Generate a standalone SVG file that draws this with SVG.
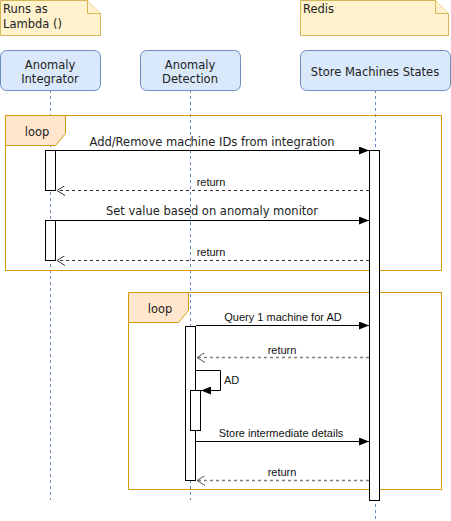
<svg xmlns="http://www.w3.org/2000/svg" width="451" height="521" viewBox="0 0 451 521">
<defs>
<marker id="block" viewBox="0 0 10 8" refX="10" refY="4" markerWidth="10" markerHeight="8" markerUnits="userSpaceOnUse" orient="auto"><path d="M0,0 L10,4 L0,8 Z" fill="#000"/></marker>
<marker id="open" viewBox="0 0 10 10" refX="9" refY="5" markerWidth="10" markerHeight="10" markerUnits="userSpaceOnUse" orient="auto"><path d="M1,0 L9,5 L1,10" fill="none" stroke="#333" stroke-width="1"/></marker>
<marker id="open2" viewBox="0 0 10 10" refX="9" refY="5" markerWidth="10" markerHeight="10" markerUnits="userSpaceOnUse" orient="auto"><path d="M1,0 L9,5 L1,10" fill="none" stroke="#555" stroke-width="1"/></marker>
</defs>
<style>
.note{fill:#fff2cc;stroke:#d6b656;stroke-width:1}
.part{fill:#dae8fc;stroke:#6c8ebf;stroke-width:1}
.life{stroke:#6c8ebf;stroke-width:1;stroke-dasharray:3 3;fill:none}
.frame{fill:none;stroke:#d79b00;stroke-width:1}
.tab{fill:#ffe6cc;stroke:#d79b00;stroke-width:1}
.act{fill:#fff;stroke:#000;stroke-width:1}
.msg{stroke:#000;stroke-width:1;fill:none;marker-end:url(#block)}
.ret{stroke:#333;stroke-width:1;stroke-dasharray:3 3;fill:none;marker-end:url(#open)}
.ret2{stroke:#808080;stroke-width:1.5;stroke-dasharray:3 3;fill:none;marker-end:url(#open2)}
.t{font-family:"DejaVu Sans",Verdana,sans-serif;font-size:11.5px;fill:#222}
.s{font-family:"Liberation Sans",Arial,sans-serif;font-size:11px;fill:#111}
.c{text-anchor:middle}
</style>

<g id="note-lambda">
<path class="note" d="M0.5,0.5 H87.5 L100.5,13.5 V35.5 H0.5 Z"/>
<path class="note" d="M87.5,0.5 V13.5 H100.5" fill="none"/>
<text class="t" x="3" y="13">Runs as</text>
<text class="t" x="3" y="28">Lambda ()</text>
</g>
<g id="note-redis">
<path class="note" d="M300.5,0.5 H435.5 L448.5,13.5 V35.5 H300.5 Z"/>
<path class="note" d="M435.5,0.5 V13.5 H448.5" fill="none"/>
<text class="t" x="303" y="13">Redis</text>
</g>

<g id="lifelines">
<line class="life" x1="50.5" y1="90" x2="50.5" y2="500"/>
<line class="life" x1="190.5" y1="90" x2="190.5" y2="500"/>
<line class="life" x1="375.5" y1="90" x2="375.5" y2="520"/>
</g>

<g id="p-integrator">
<rect class="part" x="0.5" y="50.5" width="100" height="40" rx="6"/>
<text class="t c" x="50" y="69">Anomaly</text>
<text class="t c" x="50" y="83">Integrator</text>
</g>
<g id="p-detection">
<rect class="part" x="140.5" y="50.5" width="100" height="40" rx="6"/>
<text class="t c" x="190" y="69">Anomaly</text>
<text class="t c" x="190" y="83">Detection</text>
</g>
<g id="p-store">
<rect class="part" x="300.5" y="50.5" width="150" height="40" rx="6"/>
<text class="t c" x="375" y="76">Store Machines States</text>
</g>

<g id="loop1">
<rect class="frame" x="5.5" y="115.5" width="436" height="155"/>
<path class="tab" d="M5.5,115.5 H65.5 V133.5 L55.5,145.5 H5.5 Z"/>
<text class="t c" x="37" y="136">loop</text>
</g>
<g id="loop2">
<rect class="frame" x="128.5" y="292.5" width="313" height="197"/>
<path class="tab" d="M128.5,292.5 H188.5 V310.5 L178.5,322.5 H128.5 Z"/>
<text class="t c" x="160" y="313">loop</text>
</g>

<g id="activations">
<rect class="act" x="369.5" y="150.5" width="10" height="350"/>
<rect class="act" x="45.5" y="150.5" width="10" height="40"/>
<rect class="act" x="45.5" y="220.5" width="10" height="40"/>
<rect class="act" x="185.5" y="326.5" width="10" height="154"/>
<rect class="act" x="190.5" y="390.5" width="10" height="40"/>
</g>

<g id="connectors">
<line class="msg" x1="56" y1="150.5" x2="369" y2="150.5"/>
<text class="t c" x="212" y="146">Add/Remove machine IDs from integration</text>
<line class="ret" x1="369" y1="190.5" x2="57" y2="190.5"/>
<text class="s c" x="211" y="186">return</text>
<line class="msg" x1="56" y1="220.5" x2="369" y2="220.5"/>
<text class="t c" x="212" y="215">Set value based on anomaly monitor</text>
<line class="ret" x1="369" y1="260.5" x2="57" y2="260.5"/>
<text class="s c" x="211" y="256">return</text>

<line class="msg" x1="196" y1="325.5" x2="369" y2="325.5"/>
<text class="s c" x="283" y="321">Query 1 machine for AD</text>
<line class="ret2" x1="369" y1="357.5" x2="197" y2="357.5"/>
<text class="s c" x="282" y="354">return</text>
<path class="msg" d="M196,370.5 H220.5 V390.5 H201"/>
<text class="s" x="224" y="384">AD</text>
<line class="msg" x1="196" y1="441.5" x2="369" y2="441.5"/>
<text class="s c" x="281" y="437">Store intermediate details</text>
<line class="ret2" x1="369" y1="480.5" x2="197" y2="480.5"/>
<text class="s c" x="282" y="476">return</text>
</g>
</svg>
